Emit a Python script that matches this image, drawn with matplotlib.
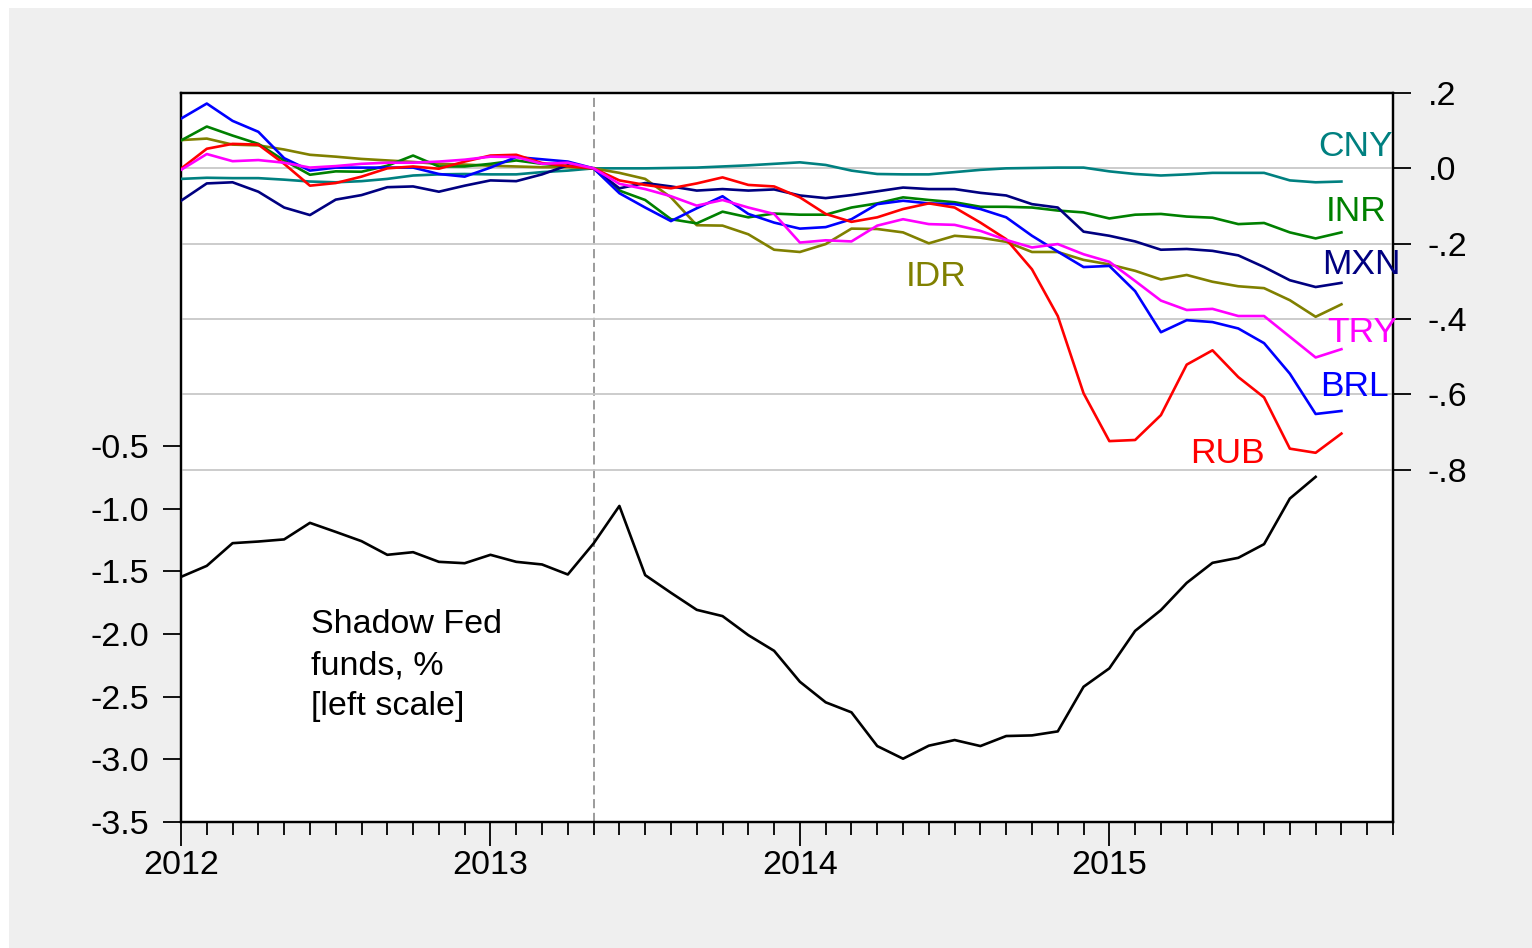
import numpy as np
import matplotlib
matplotlib.use("Agg")
from matplotlib import pyplot as plt
from matplotlib.patches import Rectangle
from matplotlib.ticker import FixedLocator, FuncFormatter

plt.rcParams['font.family'] = ['Liberation Sans', 'DejaVu Sans']

# monthly, Jan 2012 onward; currencies normalized to 0 in May 2013 (right scale)
start_year = 2012
cny = [-0.028, -0.025, -0.026, -0.026, -0.030, -0.035, -0.037, -0.034, -0.028, -0.019, -0.016, -0.015,
       -0.016, -0.016, -0.010, -0.006, 0.0, 0.0, 0.0, 0.001, 0.002, 0.005, 0.008, 0.012,
       0.016, 0.009, -0.006, -0.015, -0.016, -0.016, -0.010, -0.004, 0.0, 0.001, 0.002, 0.002,
       -0.008, -0.015, -0.019, -0.016, -0.012, -0.012, -0.012, -0.032, -0.037, -0.035]
inr = [0.074, 0.111, 0.087, 0.065, 0.021, -0.017, -0.008, -0.009, 0.007, 0.034, 0.005, 0.005,
       0.012, 0.021, 0.012, 0.006, 0.0, -0.059, -0.084, -0.135, -0.146, -0.115, -0.130, -0.120,
       -0.123, -0.123, -0.104, -0.093, -0.077, -0.084, -0.090, -0.102, -0.102, -0.104, -0.112, -0.117,
       -0.133, -0.123, -0.121, -0.128, -0.131, -0.148, -0.145, -0.170, -0.186, -0.170]
idr = [0.075, 0.079, 0.063, 0.061, 0.050, 0.036, 0.031, 0.025, 0.021, 0.017, 0.012, 0.010,
       0.007, 0.005, 0.003, 0.003, 0.0, -0.012, -0.028, -0.077, -0.151, -0.152, -0.175, -0.216,
       -0.222, -0.201, -0.160, -0.161, -0.170, -0.199, -0.179, -0.184, -0.195, -0.222, -0.222, -0.243,
       -0.255, -0.272, -0.295, -0.283, -0.301, -0.313, -0.318, -0.350, -0.394, -0.361]
mxn = [-0.086, -0.040, -0.037, -0.062, -0.104, -0.124, -0.083, -0.071, -0.050, -0.048, -0.062, -0.046,
       -0.032, -0.034, -0.016, 0.008, 0.0, -0.053, -0.039, -0.048, -0.059, -0.055, -0.059, -0.056,
       -0.072, -0.079, -0.071, -0.061, -0.051, -0.055, -0.055, -0.065, -0.072, -0.095, -0.104, -0.168,
       -0.179, -0.194, -0.216, -0.214, -0.219, -0.231, -0.262, -0.297, -0.315, -0.304]
brl = [0.132, 0.172, 0.126, 0.097, 0.027, -0.006, 0.002, 0.002, 0.002, 0.002, -0.015, -0.022,
       0.002, 0.030, 0.024, 0.018, 0.0, -0.066, -0.104, -0.140, -0.106, -0.074, -0.121, -0.144,
       -0.160, -0.156, -0.135, -0.095, -0.086, -0.093, -0.095, -0.108, -0.130, -0.179, -0.221, -0.262,
       -0.259, -0.326, -0.435, -0.403, -0.408, -0.425, -0.464, -0.545, -0.652, -0.644]
rub = [-0.001, 0.052, 0.065, 0.063, 0.012, -0.046, -0.039, -0.022, 0.0, 0.005, -0.001, 0.018,
       0.034, 0.036, 0.014, 0.006, 0.0, -0.032, -0.044, -0.053, -0.040, -0.024, -0.044, -0.048,
       -0.077, -0.121, -0.142, -0.130, -0.108, -0.093, -0.104, -0.144, -0.188, -0.268, -0.392, -0.597,
       -0.724, -0.721, -0.655, -0.521, -0.483, -0.554, -0.608, -0.744, -0.755, -0.704]
try_ = [-0.004, 0.038, 0.019, 0.022, 0.015, 0.002, 0.006, 0.012, 0.015, 0.015, 0.018, 0.023,
        0.031, 0.030, 0.012, 0.015, 0.0, -0.041, -0.055, -0.074, -0.099, -0.084, -0.104, -0.121,
        -0.197, -0.191, -0.194, -0.152, -0.135, -0.148, -0.150, -0.166, -0.190, -0.210, -0.201, -0.228,
        -0.248, -0.299, -0.351, -0.376, -0.373, -0.392, -0.392, -0.447, -0.502, -0.480]
# shadow fed funds rate, % (left scale), Jan 2012 - Sep 2015
shadow = [-1.544, -1.456, -1.275, -1.262, -1.245, -1.113, -1.185, -1.259, -1.368, -1.347, -1.424, -1.435,
          -1.368, -1.424, -1.445, -1.525, -1.277, -0.978, -1.530, -1.671, -1.807, -1.857, -2.009, -2.134,
          -2.381, -2.545, -2.625, -2.894, -2.995, -2.891, -2.846, -2.894, -2.814, -2.809, -2.777, -2.421,
          -2.274, -1.975, -1.809, -1.592, -1.432, -1.392, -1.283, -0.919, -0.746]

years = [2012, 2013, 2014, 2015]
taper_date = 2013 + 4 / 12  # May 2013
left_ticks = [-3.5, -3.0, -2.5, -2.0, -1.5, -1.0, -0.5]
right_ticks = [0.2, 0.0, -0.2, -0.4, -0.6, -0.8]
grid_levels = [0.0, -0.2, -0.4, -0.6, -0.8]

series = [
    ('CNY', cny, '#008080', (2015.675, 0.058)),
    ('IDR', idr, '#808000', (2014.343, -0.287)),
    ('INR', inr, '#008000', (2015.700, -0.114)),
    ('MXN', mxn, '#000080', (2015.688, -0.255)),
    ('BRL', brl, '#0000FF', (2015.680, -0.580)),
    ('RUB', rub, '#FF0000', (2015.260, -0.756)),
    ('TRY', try_, '#FF00FF', (2015.703, -0.436)),
]


def month_axis(n):
    return start_year + np.arange(n) / 12


def right_fmt(v, pos):
    s = f"{v:.1f}"
    return s.replace('0.', '.')


fig = plt.figure(figsize=(15.32, 9.48), dpi=100)
fig.patch.set_facecolor('white')
fig.patches.append(Rectangle((9 / 1532, 0), 1, 940 / 948, transform=fig.transFigure,
                             facecolor='#EFEFEF', edgecolor='none', zorder=-10))

ax = fig.add_axes([181 / 1532, 126 / 948, 1212 / 1532, 729 / 948])
ax.set_facecolor('white')
ax2 = ax.twinx()

fs = 24.5
lw = 1.9

# left scale: shadow fed funds
ax.plot(month_axis(len(shadow)), shadow, color='black', lw=lw, zorder=3)
ax.set_ylim(-3.5, 2.317)
ax.yaxis.set_major_locator(FixedLocator(left_ticks))
ax.yaxis.set_major_formatter(FuncFormatter(lambda v, p: f"{v:.1f}"))
ax.axvline(taper_date, color='#808080', lw=1.1, ls=(0, (6, 3)), zorder=1)

# x axis: yearly labels, monthly ticks
ax.set_xlim(2012, 2012 + 47 / 12)
ax.set_xticks(years)
ax.set_xticklabels([str(y) for y in years])
ax.set_xticks(month_axis(48), minor=True)
ax.tick_params(axis='x', which='major', direction='out', length=17, width=1.3,
               labelsize=fs, pad=3, top=False)
ax.tick_params(axis='x', which='minor', direction='out', length=9, width=1.3, top=False)
ax.tick_params(axis='y', which='major', direction='out', length=13, width=1.3,
               labelsize=fs, pad=10, right=False)

# right scale: currencies
for lev in grid_levels:
    ax2.axhline(lev, color='#C8C8C8', lw=1.3, zorder=0)
for name, vals, col, (tx, ty) in series:
    ax2.plot(month_axis(len(vals)), vals, color=col, lw=lw, zorder=3)
    ax2.text(tx, ty, name, color=col, fontsize=fs + 1, ha='left', va='center')
ax2.set_ylim(-1.735, 0.2)
ax2.yaxis.set_major_locator(FixedLocator(right_ticks))
ax2.yaxis.set_major_formatter(FuncFormatter(right_fmt))
ax2.tick_params(axis='y', which='major', direction='out', length=13, width=1.3,
                labelsize=fs, pad=12)

ax.text(2012.42, -1.80, 'Shadow Fed\nfunds, %\n[left scale]', fontsize=fs,
        ha='left', va='top', linespacing=1.42, color='black')

for a in (ax, ax2):
    for sp in a.spines.values():
        sp.set_linewidth(1.6)
        sp.set_color('black')

fig.savefig('out.png', dpi=100, facecolor=fig.get_facecolor())
